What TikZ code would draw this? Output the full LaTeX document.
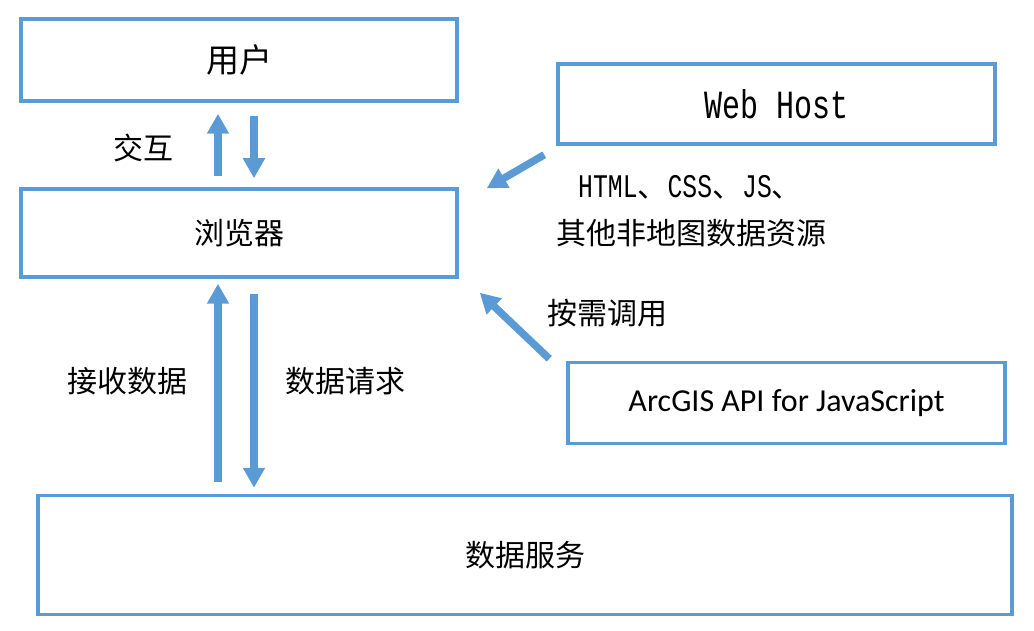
\documentclass[tikz,border=0pt]{standalone}
\usepackage{fontspec}
\setmainfont{Noto Sans CJK SC}
\newfontfamily\hostfont[FakeStretch=0.75]{Liberation Mono}
\newfontfamily\apifont{Carlito}
\usetikzlibrary{arrows.meta}
\definecolor{boxblue}{RGB}{91,155,213}

\begin{document}
\begin{tikzpicture}[x=1pt,y=1pt]
  \tikzset{
    layer/.style={
      rectangle,
      draw=boxblue,
      line width=3.5pt, % border of the boxes
      text centered,
      inner sep=0pt,
      font=\fontsize{30}{36}\selectfont,
    },
    flow/.style={
      draw=boxblue,
      line width=7.5pt,
      -{Triangle[width=21pt,length=20pt]},
    },
    tag/.style={inner sep=0pt, font=\fontsize{30}{36}\selectfont},
  }
  \useasboundingbox (0,0) rectangle (1034,630);

  % boxes
  \node[layer, minimum width=436pt, minimum height=82pt, font=\fontsize{33}{40}\selectfont] (user) at (239,570) {用户};
  \node[layer, minimum width=436pt, minimum height=88pt] (browser) at (239,397) {浏览器};
  \node[layer, minimum width=974pt, minimum height=119pt] (data) at (525,75) {数据服务};
  \node[layer, minimum width=437pt, minimum height=80pt, font=\hostfont\fontsize{40}{44}\selectfont] (web) at (776.5,526) {Web Host};
  \node[layer, minimum width=437pt, minimum height=81pt, font=\apifont\fontsize{32}{38}\selectfont] (api) at (786.5,227) {ArcGIS API for JavaScript};

  % labels
  \node[tag] (interact) at (143,482) {交互};
  \node[tag] (receive) at (127,249) {接收数据};
  \node[tag] (request) at (345,249) {数据请求};
  \node[tag, anchor=west] (files) at (578,443) {{\hostfont\fontsize{33}{36}\selectfont HTML}、{\hostfont\fontsize{33}{36}\selectfont CSS}、{\hostfont\fontsize{33}{36}\selectfont JS}、};
  \node[tag, anchor=west] (other) at (556,397) {其他非地图数据资源};
  \node[tag, anchor=west] (ondemand) at (547,317) {按需调用};

  % arrows
  \draw[flow, shorten <=11pt, shorten >=11pt] ([xshift=-21pt]browser.north) -- ([xshift=-21pt]user.south);
  \draw[flow, shorten <=13pt, shorten >=9pt] ([xshift=15pt]user.south) -- ([xshift=15pt]browser.north);
  \draw[flow, shorten <=12pt, shorten >=5pt] ([xshift=-21pt]browser.south |- data.north) -- ([xshift=-21pt]browser.south);
  \draw[flow, shorten <=15pt, shorten >=6pt] ([xshift=15pt]browser.south) -- ([xshift=15pt]browser.south |- data.north);
  \draw[flow] ([shift={(-12pt,-9pt)}]web.south west) -- ([shift={(28pt,-1pt)}]browser.north east);
  \draw[flow] ([shift={(-17pt,2pt)}]api.north west) -- ([shift={(21pt,-14pt)}]browser.south east);
\end{tikzpicture}
\end{document}
